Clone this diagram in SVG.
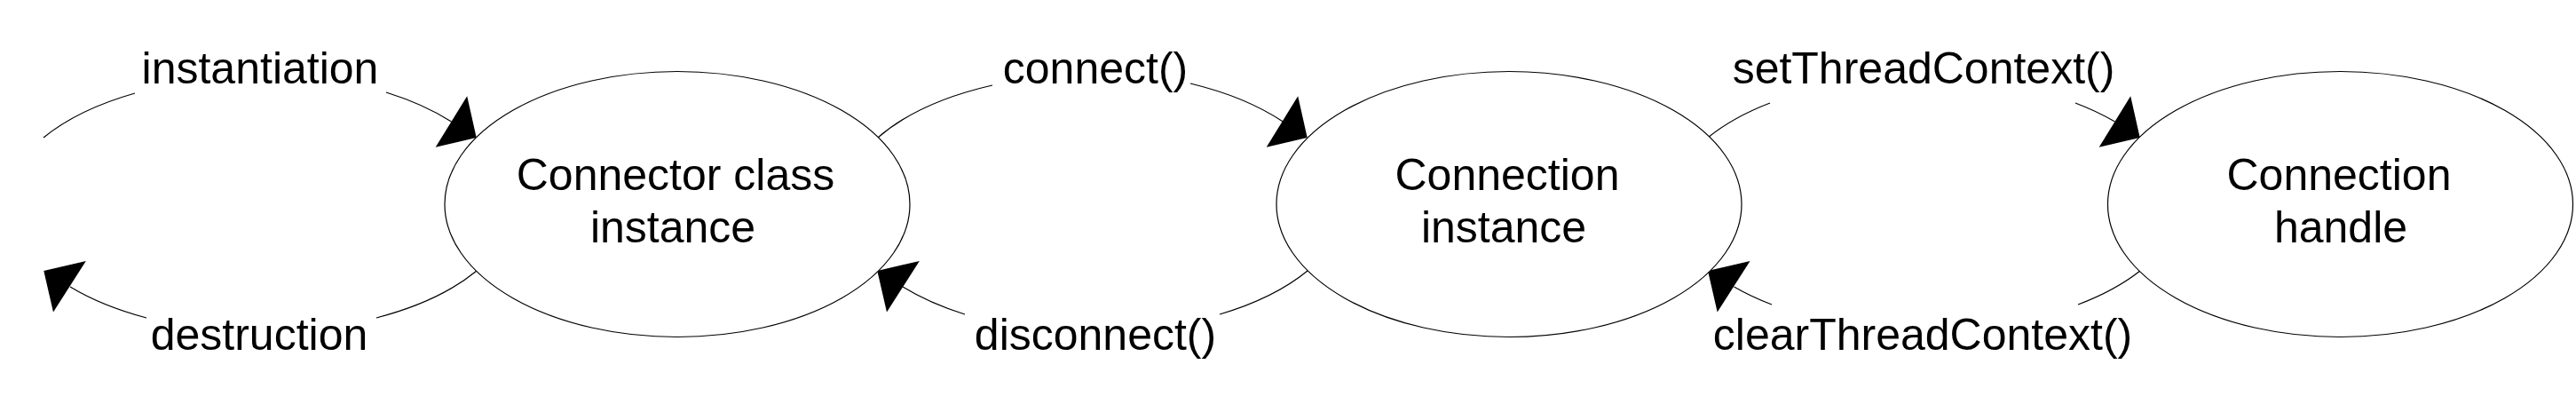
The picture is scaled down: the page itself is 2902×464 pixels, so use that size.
<svg xmlns="http://www.w3.org/2000/svg" width="2902" height="464" viewBox="0 0 2902 464">
<style>
.node ellipse{fill:#fff;stroke:#000;stroke-width:1.2}
.node text,.lbl{font-family:"Liberation Sans",Arial,sans-serif;font-size:50px;fill:#000;text-anchor:middle}
.conn path{fill:none;stroke:#000;stroke-width:1.2}
.conn polygon{fill:#000;stroke:none}
</style>
<rect width="2902" height="464" fill="#fff"/>
<g id="connectors" class="conn">
  <g id="c-instantiation">
    <path d="M49,155 A284,146 0 0 1 152,105 M435,104 A284,146 0 0 1 508.5,137"/>
    <polygon points="536.7,155 526.2,108.3 490.7,165.7"/>
    <text class="lbl" x="293" y="94">instantiation</text>
  </g>
  <g id="c-destruction">
    <path d="M537,305 A284,146 0 0 1 424,358 M165,358 A284,146 0 0 1 79,323"/>
    <polygon points="49.3,305 96.8,294 60,351.5"/>
    <text class="lbl" x="292" y="394">destruction</text>
  </g>
  <g id="c-connect">
    <path d="M989,155 A284,146 0 0 1 1118,96 M1341,94 A284,146 0 0 1 1445.3,137"/>
    <polygon points="1472.7,155 1462.2,108.3 1426.7,165.7"/>
    <text class="lbl" x="1234" y="94">connect()</text>
  </g>
  <g id="c-disconnect">
    <path d="M1473,305 A284,146 0 0 1 1374,354 M1087,354 A284,146 0 0 1 1017,323"/>
    <polygon points="988.3,305 1035.8,294 999,351.5"/>
    <text class="lbl" x="1234" y="394">disconnect()</text>
  </g>
  <g id="c-setThreadContext">
    <path d="M1924,155 A284,146 0 0 1 1994,116 M2338,116 A284,146 0 0 1 2382.5,137"/>
    <polygon points="2410.7,155 2400.2,108.3 2364.7,165.7"/>
    <text class="lbl" x="2167" y="94">setThreadContext()</text>
  </g>
  <g id="c-clearThreadContext">
    <path d="M2411,305 A284,146 0 0 1 2341,343 M1996,343 A284,146 0 0 1 1953.5,323"/>
    <polygon points="1924,305 1971.5,294 1934.7,351.5"/>
    <text class="lbl" x="2166" y="394">clearThreadContext()</text>
  </g>
</g>
<g id="node-connector-class-instance" class="node">
  <ellipse cx="763" cy="230" rx="262" ry="149.5"/>
  <text x="761" y="214">Connector class</text>
  <text x="758" y="273">instance</text>
</g>
<g id="node-connection-instance" class="node">
  <ellipse cx="1700" cy="230" rx="262" ry="149.5"/>
  <text x="1698" y="214">Connection</text>
  <text x="1694" y="273">instance</text>
</g>
<g id="node-connection-handle" class="node">
  <ellipse cx="2636.5" cy="230" rx="262" ry="149.5"/>
  <text x="2635" y="214">Connection</text>
  <text x="2637" y="273">handle</text>
</g>
</svg>
